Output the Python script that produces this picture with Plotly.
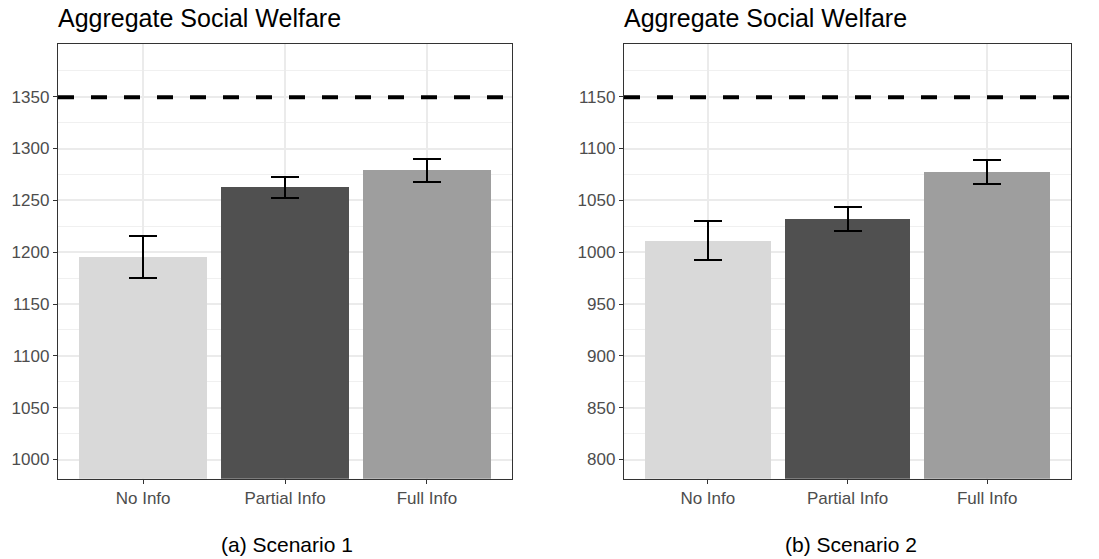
import plotly.graph_objects as go
from plotly.subplots import make_subplots

# Categories and per-scenario results
categories = ["No Info", "Partial Info", "Full Info"]
bar_colors = ["#d9d9d9", "#505050", "#9e9e9e"]

s1_mean = [1195.5, 1262.5, 1279.0]
s1_err = [20.0, 10.3, 11.1]
s1_optimum = 1349.5
s1_range = [981.5, 1400.8]
s1_ticks = [1000, 1050, 1100, 1150, 1200, 1250, 1300, 1350]

s2_mean = [1011.0, 1032.0, 1077.5]
s2_err = [18.6, 11.1, 11.4]
s2_optimum = 1149.5
s2_range = [781.5, 1200.8]
s2_ticks = [800, 850, 900, 950, 1000, 1050, 1100, 1150]

panel_title = "Aggregate Social Welfare"
captions = ["(a) Scenario 1", "(b) Scenario 2"]

W, H = 1099, 559
FONT = "Liberation Sans, Arial, sans-serif"

fig = make_subplots(rows=1, cols=2)

xpos = [1, 2, 3]
for col, (mean, err) in enumerate([(s1_mean, s1_err), (s2_mean, s2_err)], start=1):
    fig.add_trace(
        go.Bar(
            x=xpos, y=mean, width=0.9,
            marker=dict(color=bar_colors, line=dict(width=0)),
            error_y=dict(type="data", array=err, visible=True,
                         color="black", thickness=2, width=14),
            showlegend=False, hoverinfo="skip",
        ),
        row=1, col=col,
    )

# Plot-area positions (pixels)
left_x = [58 / W, 512 / W]
right_x = [624 / W, 1071 / W]
y_dom = [1 - 478.7 / H, 1 - 44 / H]

axis_common = dict(
    showline=True, mirror=True, linecolor="#333333", linewidth=1.3,
    ticks="outside", ticklen=4, tickwidth=1.3, tickcolor="#333333",
    tickfont=dict(family=FONT, size=17, color="#4d4d4d"),
    showgrid=True, gridcolor="#ebebeb", gridwidth=1.5, zeroline=False,
)

for i, (dom, rng, ticks) in enumerate(
    [(left_x, s1_range, s1_ticks), (right_x, s2_range, s2_ticks)], start=1
):
    xa = "xaxis" if i == 1 else f"xaxis{i}"
    ya = "yaxis" if i == 1 else f"yaxis{i}"
    fig.layout[xa].update(
        domain=dom, range=[0.4, 3.6], tickvals=xpos, ticktext=categories,
        **axis_common,
    )
    fig.layout[ya].update(
        domain=y_dom, range=rng, tickvals=ticks,
        minor=dict(dtick=25, tick0=ticks[0], showgrid=True,
                   gridcolor="#f0f0f0", gridwidth=1, ticks=""),
        **axis_common,
    )

# Optimum reference lines
for i, opt in enumerate([s1_optimum, s2_optimum], start=1):
    xr = "x" if i == 1 else f"x{i}"
    yr = "y" if i == 1 else f"y{i}"
    fig.add_shape(
        type="line", xref=f"{xr} domain", x0=0, x1=1, yref=yr, y0=opt, y1=opt,
        line=dict(color="black", width=4, dash="16px,17px"), layer="above",
    )

# Panel titles and captions
for dom in [left_x, right_x]:
    fig.add_annotation(
        text=panel_title, xref="paper", yref="paper", x=dom[0] - 2 / W, y=1 - 18.0 / H,
        xanchor="left", yanchor="middle", showarrow=False,
        font=dict(family=FONT, size=25, color="black"),
    )
for cap, cap_x in zip(captions, [287.5 / W, 850.5 / W]):
    fig.add_annotation(
        text=cap, xref="paper", yref="paper", x=cap_x, y=1 - 544.3 / H,
        xanchor="center", yanchor="middle", showarrow=False,
        font=dict(family=FONT, size=21, color="black"),
    )

fig.update_layout(
    width=W, height=H, margin=dict(l=0, r=0, t=0, b=0),
    paper_bgcolor="white", plot_bgcolor="white", bargap=0,
)

fig.write_html("out.html")
